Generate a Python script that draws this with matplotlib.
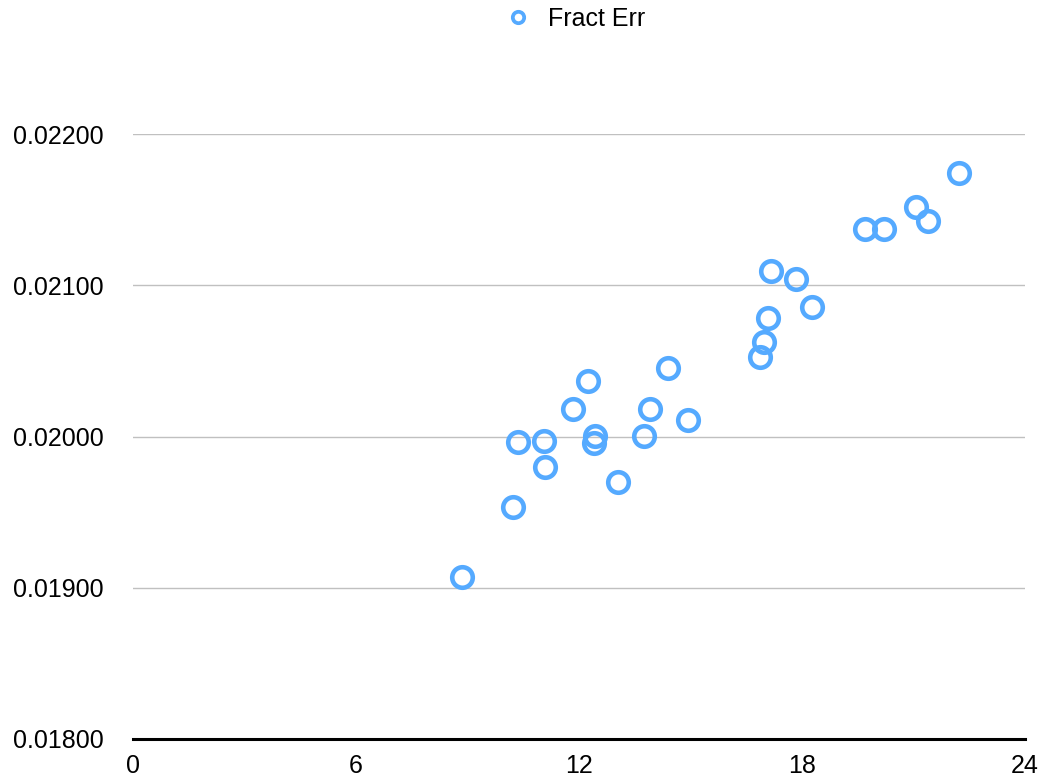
import matplotlib
matplotlib.use("Agg")
import matplotlib.pyplot as plt
from matplotlib.lines import Line2D

x_vals = [8.85, 10.22, 10.36, 11.06, 11.08, 11.84, 12.24, 12.40, 12.43, 13.05,
          13.75, 13.91, 14.39, 14.93, 16.87, 16.98, 17.08, 17.16, 17.84, 18.27,
          19.69, 20.20, 21.07, 21.39, 22.22]
fract_err = [0.019071, 0.019534, 0.019964, 0.019970, 0.019798, 0.020182, 0.020367,
             0.019957, 0.020003, 0.019699, 0.020003, 0.020182, 0.020453, 0.020109,
             0.020526, 0.020625, 0.020783, 0.021094, 0.021041, 0.020856, 0.021372,
             0.021372, 0.021517, 0.021425, 0.021742]
x_ticks = [0, 6, 12, 18, 24]
y_ticks = [0.018, 0.019, 0.020, 0.021, 0.022]
series_name = "Fract Err"

plt.rcParams['font.family'] = ['Liberation Sans', 'DejaVu Sans']
blue = "#55aaff"

fig = plt.figure(figsize=(10.45, 7.81), dpi=100)
ax = fig.add_axes([0.1273, 0.0538, 0.8536, 0.7746])

ax.plot(x_vals, fract_err, linestyle='none', marker='o', markersize=14.8,
        markerfacecolor='none', markeredgecolor=blue, markeredgewidth=3.3,
        clip_on=False, zorder=3)

ax.set_xlim(0, 24)
ax.set_ylim(0.018, 0.022)
ax.set_xticks(x_ticks)
ax.set_xticklabels([str(t) for t in x_ticks])
ax.set_yticks(y_ticks)
ax.set_yticklabels([f"{t:.5f}" for t in y_ticks])
ax.tick_params(axis='both', length=0, labelsize=18)
ax.tick_params(axis='x', pad=11)
ax.tick_params(axis='y', pad=21)
ax.yaxis.grid(True, color='#c0c0c0', linewidth=1.0)
ax.set_axisbelow(True)
for s in ['top', 'right', 'left']:
    ax.spines[s].set_visible(False)
ax.spines['bottom'].set_linewidth(2.2)
ax.spines['bottom'].set_color('black')
ax.spines['bottom'].set_zorder(4)

handle = Line2D([], [], linestyle='none', marker='o', markersize=8.2,
                markerfacecolor='none', markeredgecolor=blue, markeredgewidth=2.7)
fig.legend([handle], [series_name], loc='center', bbox_to_anchor=(0.551, 0.976),
           frameon=False, fontsize=18, handletextpad=0.7, handlelength=1.0)

fig.savefig("out.png", dpi=100)
